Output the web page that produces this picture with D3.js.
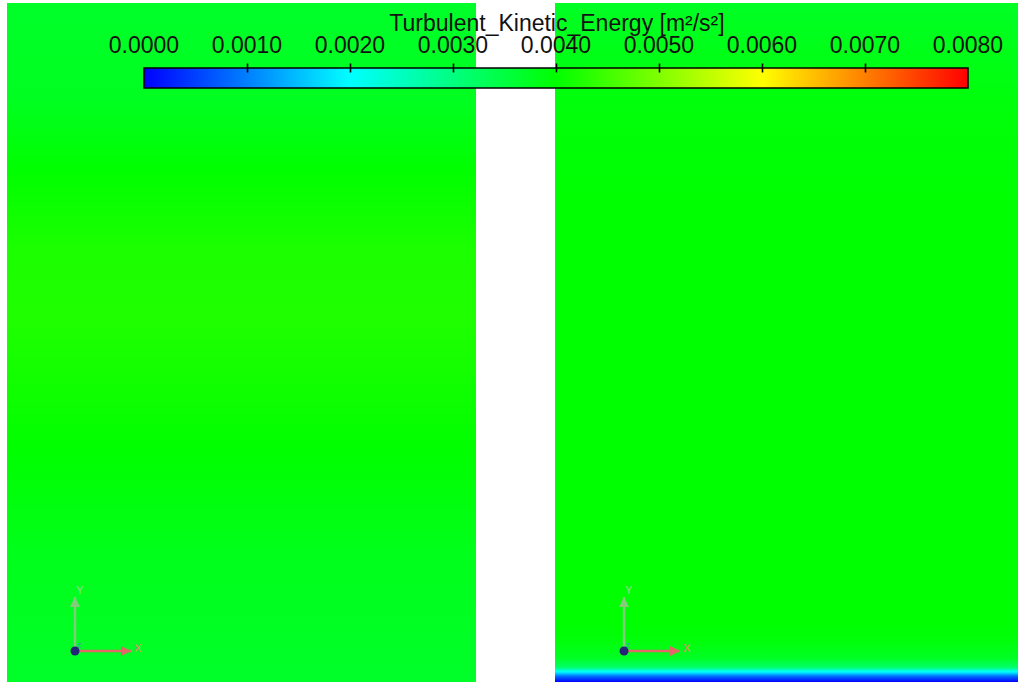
<!DOCTYPE html>
<html>
<head>
<meta charset="utf-8">
<script src="https://cdn.jsdelivr.net/npm/d3@7"></script>
<style>
  html, body { margin: 0; padding: 0; background: #ffffff; }
  svg { display: block; font-family: "Liberation Sans", Arial, sans-serif; }
</style>
</head>
<body>
<svg id="chart" width="1018" height="682"></svg>
<script>
// Legend range and tick labels (m²/s²)
const legendTicks = [0.000, 0.001, 0.002, 0.003, 0.004, 0.005, 0.006, 0.007, 0.008];
const legendStops = [0.000, 0.002, 0.004, 0.006, 0.008];
const legendColors = ["#0000ff", "#00ffff", "#00ff00", "#ffff00", "#ff0000"];
const legendTitle = "Turbulent_Kinetic_Energy [m²/s²]";

// Vertical profiles of turbulent kinetic energy (normalised height, 1 = top)
const leftHeights = [1.000, 0.857, 0.754, 0.636, 0.533, 0.415, 0.342, 0.194, 0.000];
const leftTKE     = [0.00368, 0.00375, 0.00400, 0.00422, 0.00424, 0.00410, 0.00400, 0.00380, 0.00368];

const rightHeights = [1.000, 0.850, 0.700, 0.300, 0.090, 0.060, 0.035, 0.022, 0.015, 0.008, 0.000];
const rightTKE     = [0.00372, 0.00392, 0.00400, 0.00400, 0.00400, 0.00392, 0.00372, 0.00320, 0.00200, 0.00080, 0.00000];

const svg = d3.select("#chart");
const defs = svg.append("defs");

const color = d3.scaleLinear().domain(legendStops).range(legendColors);

// Panel geometry
const panels = [
  { id: "left",  x0: 7,   x1: 476,  heights: leftHeights,  values: leftTKE,  origin: [75, 651] },
  { id: "right", x0: 555, x1: 1018, heights: rightHeights, values: rightTKE, origin: [624, 651] }
];
const yTop = 3, yBottom = 682;
const yScale = d3.scaleLinear().domain([0, 1]).range([yBottom, yTop]);

panels.forEach(p => {
  const grad = defs.append("linearGradient")
    .attr("id", "grad-" + p.id)
    .attr("x1", 0).attr("y1", 0).attr("x2", 0).attr("y2", 1);
  const pts = p.heights.map((h, i) => ({ h, v: p.values[i] }))
    .sort((a, b) => b.h - a.h);
  pts.forEach(d => {
    grad.append("stop")
      .attr("offset", (yScale(d.h) - yTop) / (yBottom - yTop))
      .attr("stop-color", color(d.v));
  });
  svg.append("rect")
    .attr("x", p.x0).attr("y", yTop)
    .attr("width", p.x1 - p.x0).attr("height", yBottom - yTop)
    .attr("fill", "url(#grad-" + p.id + ")");
});

// Coordinate triads
function arrowMarker(id, fill) {
  defs.append("marker")
    .attr("id", id).attr("viewBox", "0 0 10 10")
    .attr("refX", 10).attr("refY", 5)
    .attr("markerWidth", 14).attr("markerHeight", 10)
    .attr("markerUnits", "userSpaceOnUse").attr("orient", "auto")
    .append("path").attr("d", "M0,0 L10,5 L0,10 Z").attr("fill", fill);
}
arrowMarker("arrowX", "#e26868");
arrowMarker("arrowY", "#84cc7c");

panels.forEach(p => {
  const [ox, oy] = p.origin;
  const g = svg.append("g");
  g.append("line")
    .attr("x1", ox).attr("y1", oy).attr("x2", ox).attr("y2", oy - 54)
    .attr("stroke", "#84cc7c").attr("stroke-width", 2.4)
    .attr("marker-end", "url(#arrowY)");
  g.append("line")
    .attr("x1", ox).attr("y1", oy).attr("x2", ox + 56).attr("y2", oy)
    .attr("stroke", "#e26868").attr("stroke-width", 2.4)
    .attr("marker-end", "url(#arrowX)");
  g.append("text").attr("x", ox + 1).attr("y", oy - 57)
    .attr("font-size", 11).attr("fill", "#9ad88f").text("Y");
  g.append("text").attr("x", ox + 59).attr("y", oy + 1)
    .attr("font-size", 11).attr("fill", "#e8846e").text("X");
  g.append("text").attr("x", ox + 2).attr("y", oy - 3)
    .attr("font-size", 7).attr("fill", "#4a8ad0").text("Z");
  g.append("circle").attr("cx", ox).attr("cy", oy).attr("r", 4.5)
    .attr("fill", "#232378");
});

// Colour legend
const barX0 = 144, barX1 = 968, barY = 68, barH = 20;
const xLegend = d3.scaleLinear().domain([legendTicks[0], legendTicks[legendTicks.length - 1]]).range([barX0, barX1]);

const lg = defs.append("linearGradient").attr("id", "legendGrad")
  .attr("x1", 0).attr("y1", 0).attr("x2", 1).attr("y2", 0);
legendStops.forEach((v, i) => {
  lg.append("stop")
    .attr("offset", (xLegend(v) - barX0) / (barX1 - barX0))
    .attr("stop-color", legendColors[i]);
});

svg.append("rect")
  .attr("x", barX0).attr("y", barY)
  .attr("width", barX1 - barX0).attr("height", barH)
  .attr("fill", "url(#legendGrad)")
  .attr("stroke", "#000").attr("stroke-width", 1.5);

const axis = d3.axisTop(xLegend)
  .tickValues(legendTicks.slice(1, -1))
  .tickSize(0)
  .tickFormat(() => "");
const axG = svg.append("g").attr("transform", `translate(0,${barY})`).call(axis);
axG.select(".domain").remove();
axG.selectAll(".tick").append("line")
  .attr("y1", -4.5).attr("y2", 4.5)
  .attr("stroke", "#000").attr("stroke-width", 1.6);

svg.append("g").selectAll("text").data(legendTicks).join("text")
  .attr("x", d => xLegend(d))
  .attr("y", 53)
  .attr("text-anchor", "middle")
  .attr("font-size", 23)
  .attr("fill", "#111")
  .text(d => d.toFixed(4));

svg.append("text")
  .attr("x", 557).attr("y", 31)
  .attr("text-anchor", "middle")
  .attr("font-size", 23)
  .attr("fill", "#111")
  .text(legendTitle);
</script>
</body>
</html>
